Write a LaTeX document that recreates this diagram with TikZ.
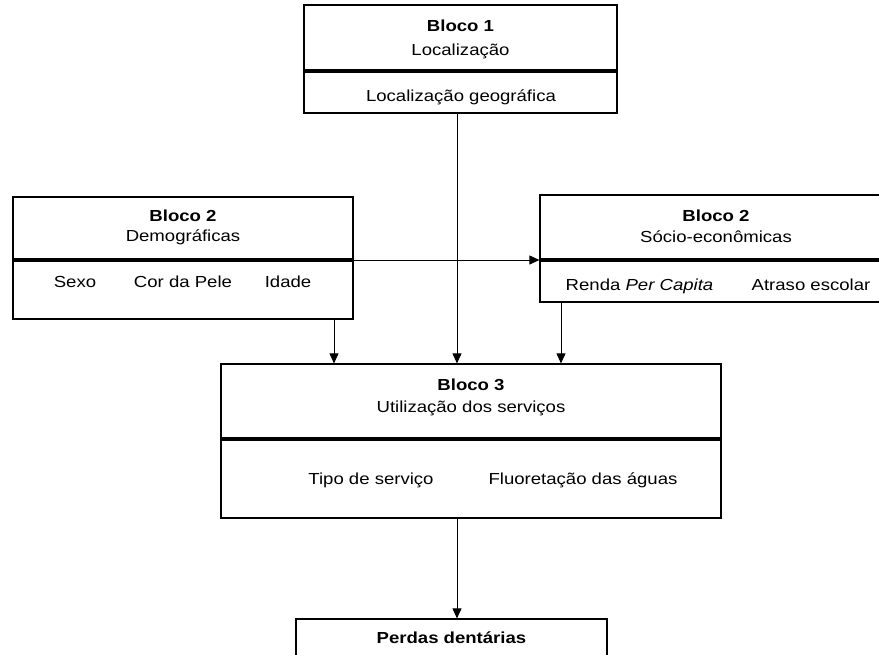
\documentclass[tikz,border=0pt]{standalone}
\usepackage{fontspec}
\setmainfont{Liberation Sans}[FakeStretch=1.16]
\usetikzlibrary{arrows.meta}
\begin{document}
\begin{tikzpicture}[x=1pt,y=-1pt,
  box/.style={draw, line width=1.2pt, inner sep=0pt},
  divline/.style={line width=3.2pt},
  arr/.style={line width=0.9pt, -{Triangle[length=10pt,width=9pt]}},
  txt/.style={anchor=base, inner sep=0pt, font=\fontsize{16}{18}\selectfont},
  btxt/.style={txt, font=\fontsize{16}{18}\selectfont\bfseries}]
\useasboundingbox (0,0) rectangle (879,654);
\clip (0,0) rectangle (879,654);
% boxes
\node[box, minimum width=313pt, minimum height=108pt] (b1) at (460.5,59) {};
\node[box, minimum width=340pt, minimum height=122pt] (b2l) at (183,258) {};
\node[box, minimum width=352pt, minimum height=107pt] (b2r) at (716,248.5) {};
\node[box, minimum width=500pt, minimum height=154pt] (b3) at (471,441) {};
\node[box, minimum width=311pt, minimum height=52pt] (b4) at (451.5,645) {};
% divider levels
\coordinate (d1) at (0,71);
\coordinate (d2) at (0,260);
\coordinate (d3) at (0,439);
\draw[divline] (b1.west |- d1) -- (b1.east |- d1);
\draw[divline] (b2l.west |- d2) -- (b2l.east |- d2);
\draw[divline] (b2r.west |- d2) -- (b2r.east |- d2);
\draw[divline] (b3.west |- d3) -- (b3.east |- d3);
% texts
\node[btxt] (t1a) at (460.5,31.7) {Bloco 1};
\node[txt] (t1b) at (460.5,55) {Localização};
\node[txt] (t1c) at (461,101.7) {Localização geográfica};
\node[btxt] (t2a) at (183,221) {Bloco 2};
\node[txt] (t2b) at (183,241) {Demográficas};
\node[txt] (t2c) at (75,287) {Sexo};
\node[txt] (t2d) at (183,287) {Cor da Pele};
\node[txt] (t2e) at (288,287) {Idade};
\node[btxt] (t3a) at (716,221) {Bloco 2};
\node[txt] (t3b) at (716,242) {Sócio-econômicas};
\node[txt] (t3c) at (639.5,290.7) {Renda \textit{Per Capita}};
\node[txt] (t3d) at (811,290.7) {Atraso escolar};
\node[btxt] (t4a) at (471,390) {Bloco 3};
\node[txt] (t4b) at (471,412.7) {Utilização dos serviços};
\node[txt] (t4c) at (371,484) {Tipo de serviço};
\node[txt] (t4d) at (583,484) {Fluoretação das águas};
\node[btxt] (t5a) at (451.5,643) {Perdas dentárias};
% connectors
\coordinate (xa) at (457,0);
\coordinate (xl) at (334,0);
\coordinate (xr) at (561,0);
\draw[arr] (b1.south -| xa) -- (b3.north -| xa);
\draw[arr] (b2l.south -| xl) -- (b3.north -| xl);
\draw[arr] (b2r.south -| xr) -- (b3.north -| xr);
\draw[arr] (b2l.east |- d2) -- (b2r.west |- d2);
\draw[arr] (b3.south -| xa) -- (b4.north -| xa);
\end{tikzpicture}
\end{document}
